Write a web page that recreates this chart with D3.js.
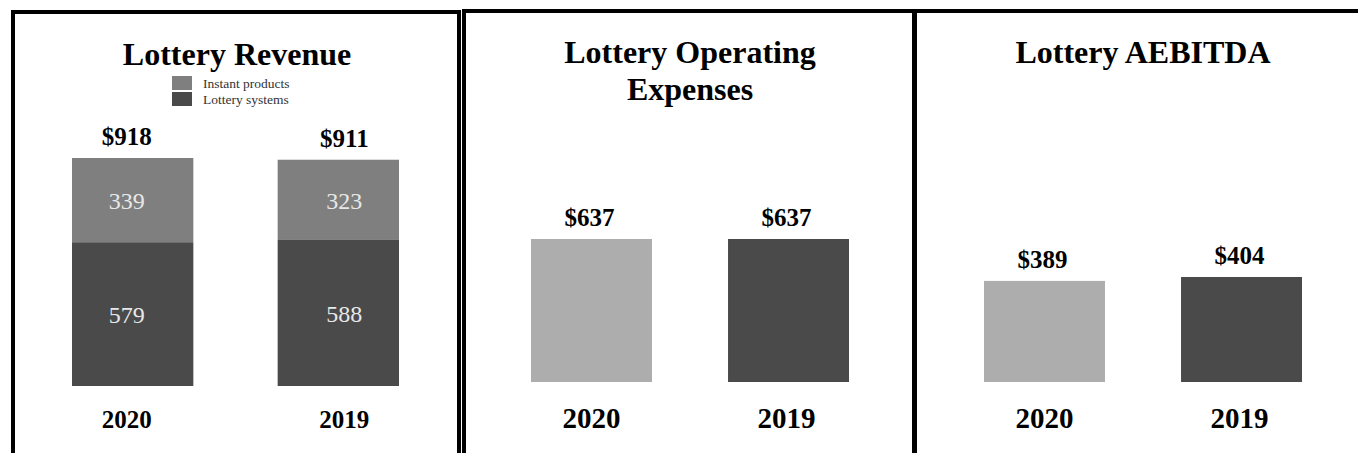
<!DOCTYPE html>
<html lang="en">
<head>
<meta charset="UTF-8">
<title>Lottery</title>
<script src="https://d3js.org/d3.v7.min.js"></script>
<style>
    body { margin: 0; background: #fff; }
    svg text { font-family: "Liberation Serif", "Times New Roman", serif; }
</style>
</head>
<body>
<svg id="chart" width="1358" height="453"></svg>
<script>
// data
const years = ["2020", "2019"];
const instantProducts = [339, 323];
const lotterySystems = [579, 588];
const revenueTotals = [918, 911];
const operatingExpenses = [637, 637];
const aebitda = [389, 404];
const legendLabels = ["Instant products", "Lottery systems"];

const svg = d3.select('#chart');

const cInstant = '#7f7f7f';
const cSystems = '#4a4a4a';
const cLight = '#adadad';

// panel frames
const frames = [
    { x: 13, y: 12, w: 446 },
    { x: 464, y: 11, w: 450 },
    { x: 915, y: 11, w: 500 }
];
frames.forEach(f => {
    svg.append('rect')
        .attr('x', f.x).attr('y', f.y)
        .attr('width', f.w).attr('height', 480)
        .attr('fill', 'none')
        .attr('stroke', '#000')
        .attr('stroke-width', 4);
});

function title(lines, cx, y0) {
    const t = svg.append('text')
        .attr('text-anchor', 'middle')
        .attr('font-weight', 'bold')
        .attr('font-size', 32)
        .attr('fill', '#000');
    lines.forEach((l, i) => {
        t.append('tspan').attr('x', cx).attr('y', y0 + i * 37).text(l);
    });
}

function yearLabels(x, size, dx) {
    svg.append('g').selectAll('text')
        .data(years)
        .join('text')
        .attr('x', (d, i) => x(d) + x.bandwidth() / 2 + dx[i])
        .attr('y', 428)
        .attr('text-anchor', 'middle')
        .attr('font-weight', 'bold')
        .attr('font-size', size)
        .text(d => d);
}

// ---- panel 1: revenue (stacked)
const x1 = d3.scaleBand().domain(years).range([72, 399]).paddingInner(0.41);
const y1 = d3.scaleLinear().domain([0, 918]).range([386, 158]);
const shift1 = [-6, 6];

title(["Lottery Revenue"], 237, 65);

const leg = svg.append('g');
legendLabels.forEach((l, i) => {
    leg.append('rect')
        .attr('x', 172).attr('y', 76 + i * 16)
        .attr('width', 20).attr('height', 14)
        .attr('fill', i === 0 ? cInstant : cSystems);
    leg.append('text')
        .attr('x', 203).attr('y', 88 + i * 15.5)
        .attr('font-size', 13.5)
        .attr('fill', '#333')
        .text(l);
});

const rev = years.map((d, i) => ({ year: d, systems: lotterySystems[i], instant: instantProducts[i], total: revenueTotals[i] }));

const g1 = svg.append('g');
g1.selectAll('.sys').data(rev).join('rect')
    .attr('x', d => x1(d.year)).attr('width', x1.bandwidth())
    .attr('y', d => y1(d.systems))
    .attr('height', d => y1(0) - y1(d.systems))
    .attr('fill', cSystems);
g1.selectAll('.ins').data(rev).join('rect')
    .attr('x', d => x1(d.year)).attr('width', x1.bandwidth())
    .attr('y', d => y1(d.total))
    .attr('height', d => y1(d.systems) - y1(d.total))
    .attr('fill', cInstant);

g1.selectAll('.lsys').data(rev).join('text')
    .attr('x', (d, i) => x1(d.year) + x1.bandwidth() / 2 + shift1[i])
    .attr('y', d => (y1(0) + y1(d.systems)) / 2 + 9)
    .attr('text-anchor', 'middle').attr('font-size', 24).attr('fill', '#e8e8e8')
    .text(d => d.systems);
g1.selectAll('.lins').data(rev).join('text')
    .attr('x', (d, i) => x1(d.year) + x1.bandwidth() / 2 + shift1[i])
    .attr('y', d => (y1(d.systems) + y1(d.total)) / 2 + 9)
    .attr('text-anchor', 'middle').attr('font-size', 24).attr('fill', '#e8e8e8')
    .text(d => d.instant);
g1.selectAll('.ltot').data(rev).join('text')
    .attr('x', (d, i) => x1(d.year) + x1.bandwidth() / 2 + shift1[i])
    .attr('y', d => y1(d.total) - 13)
    .attr('text-anchor', 'middle').attr('font-size', 25).attr('font-weight', 'bold')
    .text(d => '$' + d.total);

yearLabels(x1, 25, shift1);

// ---- panels 2 and 3: simple bars
function simplePanel(values, titleLines, range, yTop) {
    const x = d3.scaleBand().domain(years).range(range).paddingInner(0.386);
    const y = d3.scaleLinear().domain([0, d3.max(values)]).range([382, yTop]);
    const cx = (range[0] + range[1]) / 2;
    title(titleLines, cx, 63);
    const g = svg.append('g');
    g.selectAll('rect').data(values).join('rect')
        .attr('x', (d, i) => x(years[i])).attr('width', x.bandwidth())
        .attr('y', d => y(d))
        .attr('height', d => y(0) - y(d))
        .attr('fill', (d, i) => i === 0 ? cLight : cSystems);
    g.selectAll('text').data(values).join('text')
        .attr('x', (d, i) => x(years[i]) + x.bandwidth() / 2 - 2)
        .attr('y', d => y(d) - 13)
        .attr('text-anchor', 'middle').attr('font-size', 25).attr('font-weight', 'bold')
        .text(d => '$' + d);
    yearLabels(x, 29, [0, -2]);
}

simplePanel(operatingExpenses, ["Lottery Operating", "Expenses"], [531, 849], 239);
simplePanel(aebitda, ["Lottery AEBITDA"], [984, 1302], 277);
</script>
</body>
</html>
